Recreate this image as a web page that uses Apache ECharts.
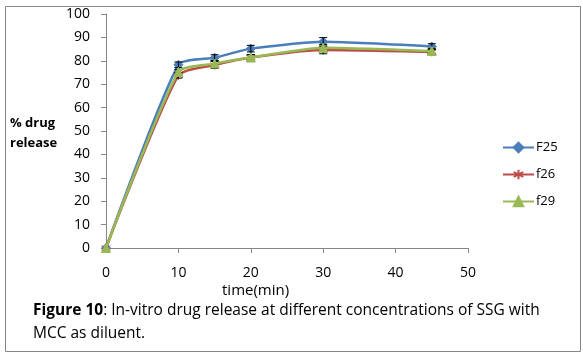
<!DOCTYPE html>
<html><head><meta charset="utf-8">
<script src="https://cdn.jsdelivr.net/npm/echarts@6/dist/echarts.min.js"></script>
<style>html,body{margin:0;padding:0;background:#fff}#c{width:583px;height:355px}</style>
</head><body><div id="c"></div>
<script>
const times = [0, 10, 15, 20, 30, 45];
const seriesNames = ['F25', 'f26', 'f29'];
const f25 = [0, 78.3, 81.3, 85.2, 88.1, 86.1];
const f26 = [0, 73.8, 78.2, 81.4, 84.6, 83.8];
const f29 = [0, 75.3, 78.8, 81.4, 85.6, 84.2];
const f25Err = [0, 1.2, 1.3, 1.4, 1.8, 1.2];
const f26Err = [0, 1.2, 1.5, 1.2, 1.6, 1.0];
const f29Err = [0, 1.0, 1.3, 1.2, 1.4, 1.0];
const xTicks = [0, 10, 20, 30, 40, 50];
const yTicks = [0, 10, 20, 30, 40, 50, 60, 70, 80, 90, 100];

const colors = ['#4a7ebb', '#be4b48', '#98b954'];
const values = [f25, f26, f29];
const errs = [f25Err, f26Err, f29Err];
const symbols = ['diamond', 'path://M0,-10L0,10M-9,-5L9,5M-9,5L9,-5', 'triangle'];
const FONT = 'Open Sans';

const chart = echarts.init(document.getElementById('c'), null, {renderer: 'canvas'});

function errSeries(i) {
  return {
    type: 'custom',
    silent: true,
    z: 5,
    data: times.map((t, k) => [t, values[i][k], errs[i][k]]),
    renderItem: function (params, api) {
      const x = api.value(0), y = api.value(1), e = api.value(2);
      if (!e) return null;
      const top = api.coord([x, y + e]);
      const bot = api.coord([x, y - e]);
      const cw = 4;
      return {
        type: 'group',
        children: [
          {type: 'line', shape: {x1: top[0], y1: top[1], x2: bot[0], y2: bot[1]}, style: {stroke: '#000', lineWidth: 1}},
          {type: 'line', shape: {x1: top[0] - cw, y1: top[1], x2: top[0] + cw, y2: top[1]}, style: {stroke: '#000', lineWidth: 1}},
          {type: 'line', shape: {x1: bot[0] - cw, y1: bot[1], x2: bot[0] + cw, y2: bot[1]}, style: {stroke: '#000', lineWidth: 1}}
        ]
      };
    }
  };
}

const lineSeries = seriesNames.map((n, i) => ({
  name: n,
  type: 'line',
  smooth: 0.2,
  z: 3 + i,
  data: times.map((t, k) => [t, values[i][k]]),
  symbol: symbols[i],
  symbolSize: 9,
  showAllSymbol: true,
  lineStyle: {color: colors[i], width: 2.5},
  itemStyle: {color: colors[i], borderColor: colors[i], borderWidth: 1},
  emphasis: {disabled: true}
}));

chart.setOption({
  animation: false,
  backgroundColor: '#fff',
  grid: {left: 106, right: 115, top: 14, bottom: 107, containLabel: false},
  xAxis: {
    type: 'value', min: xTicks[0], max: xTicks[xTicks.length - 1], interval: 10,
    axisLine: {lineStyle: {color: '#868686', width: 1}},
    axisTick: {show: true, length: 5, lineStyle: {color: '#868686'}},
    axisLabel: {color: '#000', fontFamily: FONT, fontSize: 14, margin: 18},
    splitLine: {show: false}
  },
  yAxis: {
    type: 'value', min: yTicks[0], max: yTicks[yTicks.length - 1], interval: 10,
    axisLine: {show: true, lineStyle: {color: '#868686', width: 1}},
    axisTick: {show: true, length: 5, lineStyle: {color: '#868686'}},
    axisLabel: {color: '#000', fontFamily: FONT, fontSize: 14, margin: 16},
    splitLine: {show: false}
  },
  legend: {
    orient: 'vertical', left: 497, top: 136, itemGap: 14,
    itemWidth: 31, itemHeight: 12,
    textStyle: {color: '#000', fontFamily: FONT, fontSize: 13, padding: [0, 0, 0, -3]},
    data: seriesNames
  },
  graphic: [
    {type: 'rect', left: 3, top: 4, shape: {width: 575, height: 345}, style: {fill: 'none', stroke: '#868686', lineWidth: 1}, silent: true},
    {type: 'text', left: 10, top: 113, style: {text: '% drug\nrelease', fontFamily: FONT, fontWeight: 'bold', fontSize: 13, lineHeight: 20, fill: '#000', align: 'left'}},
    {type: 'text', left: 222, top: 283, style: {text: 'time(min)', fontFamily: FONT, fontSize: 15, fill: '#000'}},
    {type: 'text', left: 33, top: 303, style: {
      rich: {b: {fontWeight: 'bold', fontFamily: FONT, fontSize: 15.5, fill: '#000', lineHeight: 23}, n: {fontFamily: FONT, fontSize: 15.5, fill: '#000', lineHeight: 23}},
      text: '{b|Figure 10}{n|: In-vitro drug release at different concentrations of SSG with}\n{n|MCC as diluent.}',
      fill: '#000'
    }}
  ],
  series: lineSeries.concat([errSeries(0), errSeries(1), errSeries(2)])
});
</script></body></html>
